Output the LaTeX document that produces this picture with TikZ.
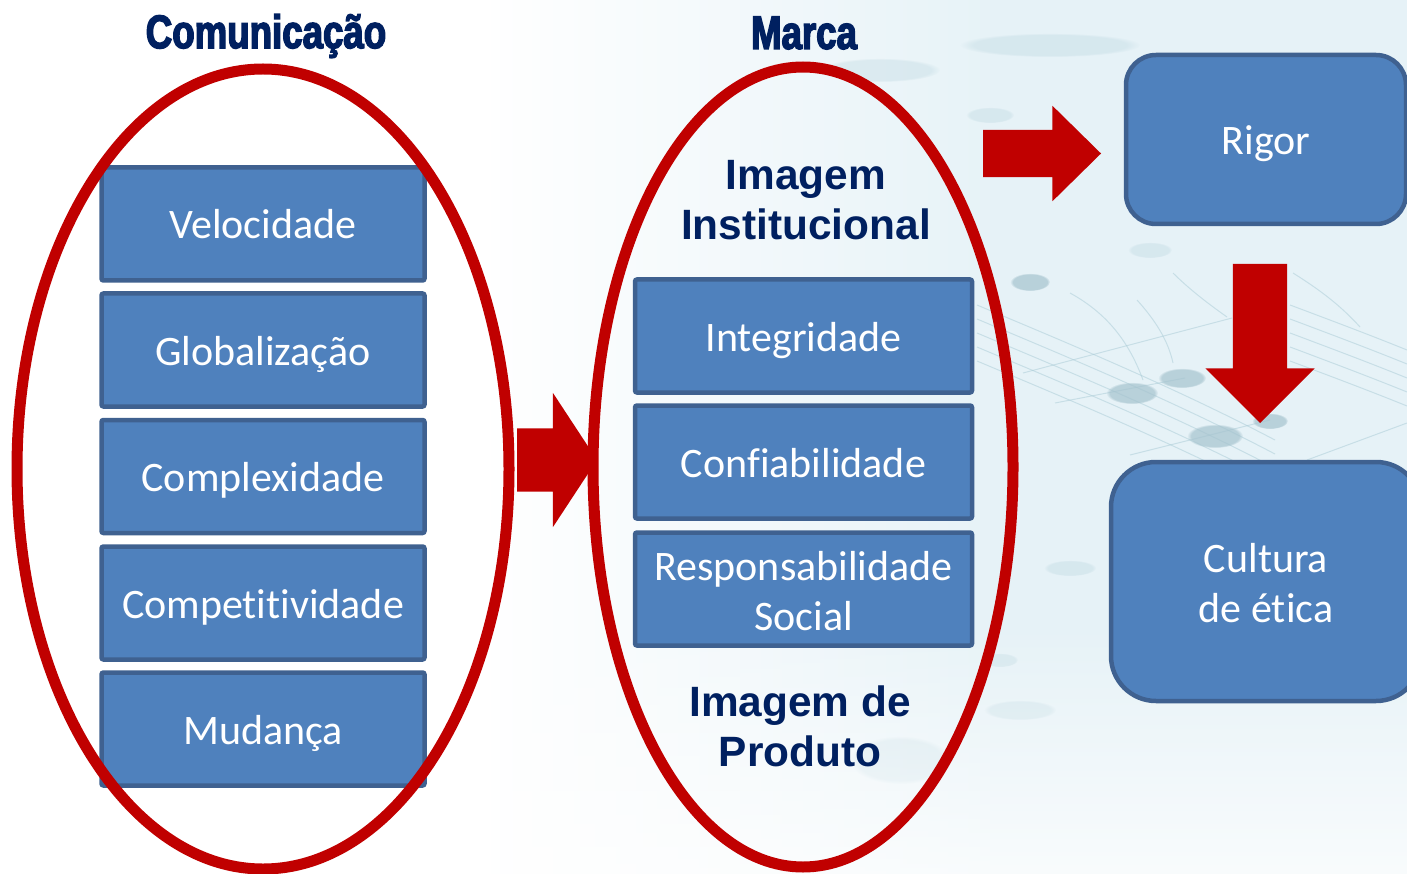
\documentclass[tikz,border=0pt]{standalone}
\usepackage{fontspec}
\usetikzlibrary{shapes.geometric,shapes.arrows,fadings}
\setmainfont{Carlito}[Ligatures=NoCommon]
\newfontfamily\headfont{Liberation Sans}[BoldFont={Liberation Sans Bold}]
\newfontfamily\titlefont{Liberation Sans Bold}[FakeStretch=0.78,FakeBold=3]
\definecolor{boxfill}{HTML}{4F81BD}
\definecolor{boxline}{HTML}{3F6190}
\definecolor{accent}{HTML}{C00000}
\definecolor{navy}{HTML}{002060}
\definecolor{tintblue}{HTML}{E6F2F7}
\definecolor{staff}{HTML}{A9CBD6}
\definecolor{noteink}{HTML}{A5C3CE}
\tikzset{
  box/.style={draw=boxline,line width=4.5pt,fill=boxfill,rounded corners=2pt,text=white,
    minimum width=323pt,minimum height=113pt,inner sep=0pt,outer sep=0pt,align=center,
    font=\fontsize{42}{50}\selectfont},
  oneline/.style={text height=36pt,text depth=6pt},
  widebox/.style={box,minimum width=337pt},
  ring/.style={ellipse,draw=accent,line width=11pt,inner sep=0pt,outer sep=0pt},
  blockarrow/.style={single arrow,fill=accent,inner sep=0pt,outer sep=0pt,anchor=tail},
  title/.style={text=navy,font=\titlefont\fontsize{47}{47}\selectfont,inner sep=0pt},
  subtitle/.style={text=navy,align=center,inner sep=0pt,font=\headfont\bfseries\fontsize{42.4}{50}\selectfont},
  stafflines/.style={draw=staff,line width=1pt,opacity=.5},
  note/.style={fill=noteink,opacity=.7,path fading=circle with fuzzy edge 15 percent},
  haze/.style={fill=staff,opacity=.25,path fading=circle with fuzzy edge 15 percent}
}
\newcommand{\lift}{\rule{0pt}{33pt}}
\begin{document}
\begin{tikzpicture}[x=1pt,y=-1pt]
\useasboundingbox (0,0) rectangle (1407,874);
\clip (0,0) rectangle (1407,874);
% backdrop
\fill[white] (0,0) rectangle (1407,874);
\shade[left color=white,right color=tintblue] (480,0) rectangle (1000,874);
\fill[tintblue] (1000,0) rectangle (1407,874);
% faint sheet music
\fill[haze] (1050,45) ellipse (90 and 12);
\fill[haze] (880,70) ellipse (60 and 12);
\fill[haze] (990,115) ellipse (24 and 8);
\fill[haze] (1150,250) ellipse (22 and 8);
\fill[haze] (1070,568) ellipse (26 and 8);
\fill[haze] (1020,710) ellipse (36 and 10);
\fill[haze] (900,760) ellipse (50 and 24);
\fill[haze] (1000,660) ellipse (18 and 7);
\foreach \d in {0,14,28,42,56} {
  \draw[stafflines] (977,{305+\d}) .. controls (1060,{340+\d}) and (1170,{385+\d}) .. (1275,{440+\d});
  \draw[stafflines] (1290,{305+\d}) .. controls (1330,{320+\d}) and (1370,{335+\d}) .. (1407,{350+\d});
}
\draw[stafflines] (1023,373) -- (1232,318);
\draw[stafflines] (1055,403) -- (1185,378);
\draw[stafflines] (1130,455) -- (1270,420);
\draw[stafflines] (1307,460) -- (1407,423);
\draw[stafflines] (1070,293) .. controls (1110,315) and (1130,345) .. (1143,380);
\draw[stafflines] (1137,300) .. controls (1155,320) and (1168,340) .. (1173,363);
\draw[stafflines] (1173,273) .. controls (1190,290) and (1210,305) .. (1227,317);
\draw[stafflines] (1293,273) .. controls (1320,290) and (1340,305) .. (1360,327);
\fill[note] (1132,393) ellipse (26 and 11);
\fill[note] (1182,378) ellipse (24 and 10);
\fill[note] (1215,436) ellipse (28 and 12);
\fill[note] (1270,421) ellipse (18 and 8);
\fill[note] (1030,282) ellipse (20 and 9);
% lighter lower part of the backdrop
\fill[white,path fading=north,opacity=.75] (480,620) rectangle (1407,874);
% titles
\node[title] (tcom) at (266,36) {Comunicação};
\node[title] (tmar) at (804,33) {Marca};
% left column
\node[box,oneline] (vel) at (263,224) {Velocidade};
\node[box,oneline] (glo) at (263,350) {Globalização};
\node[box,oneline] (cpx) at (263,476.5) {Complexidade};
\node[box,oneline] (cmp) at (263,603) {Competitividade};
\node[box,oneline] (mud) at (263,729) {Mudança};
% middle column
\node[subtitle] (inst) at (806,200.5) {Imagem\\Institucional};
\node[widebox,oneline] (int) at (803.5,336) {Integridade};
\node[widebox,oneline] (con) at (803.5,462) {Confiabilidade};
\node[widebox] (res) at (803.5,589) {\lift Responsabilidade\\Social};
\node[subtitle] (prod) at (800,726) {Imagem de\\Produto};
% right column
\node[box,oneline,rounded corners=30pt,minimum width=280pt,minimum height=169pt] (rig) at (1266,139.5) {Rigor};
\node[box,rounded corners=45pt,minimum width=310pt,minimum height=239pt] (cul) at (1266,581.5) {\lift Cultura\\de ética};
% block arrows
\coordinate (a1) at (517,460);
\coordinate (a2) at (983,153.5);
\coordinate (a3) at (1260,264);
\node[blockarrow,minimum height=80pt,minimum width=134pt,single arrow head extend=35.5pt,single arrow tip angle=113.4] (arr1) at (a1) {\rule{0pt}{63pt}};
\node[blockarrow,minimum height=118pt,minimum width=95pt,single arrow head extend=24pt,single arrow tip angle=89] (arr2) at (a2) {\rule{0pt}{47pt}};
\node[blockarrow,minimum height=159pt,minimum width=109pt,single arrow head extend=27.5pt,single arrow tip angle=90,shape border rotate=270] (arr3) at (a3) {\rule{54pt}{0pt}};
% ovals
\node[ring,minimum width=492pt,minimum height=800pt] (ov1) at (263,469) {};
\node[ring,minimum width=420pt,minimum height=800pt] (ov2) at (803,467) {};
\end{tikzpicture}
\end{document}
